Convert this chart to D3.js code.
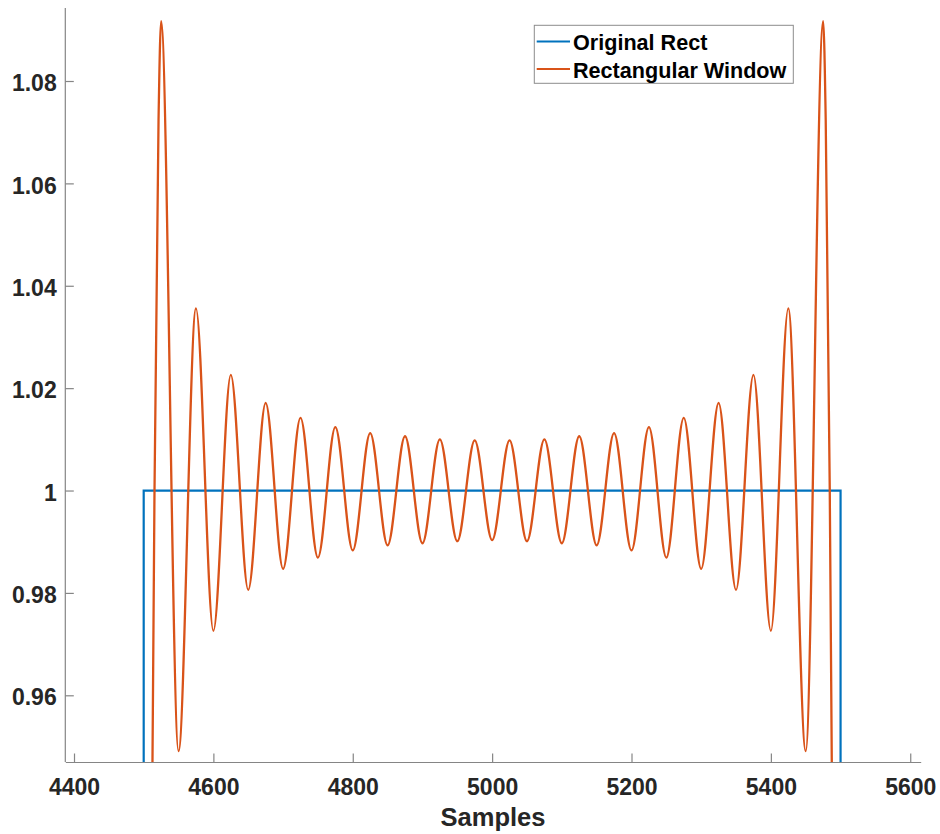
<!DOCTYPE html>
<html>
<head>
<meta charset="utf-8">
<script src="https://cdn.jsdelivr.net/npm/d3@7"></script>
<style>
  html, body { margin: 0; padding: 0; background: #ffffff; }
  svg { display: block; }
</style>
</head>
<body>
<svg id="chart" width="940" height="834"></svg>
<script>
// ---------------- data ----------------
const rectX = [4500, 4500, 5500, 5500];
const rectY = [0, 1, 1, 0];

const rippleX = [
  4500, 4512.6, 4515.5, 4521.3, 4525,
  4550, 4575, 4600, 4625, 4650, 4675, 4700, 4725, 4750, 4775,
  4800, 4825, 4850, 4875, 4900, 4925, 4950, 4975, 5000,
  5025, 5050, 5075, 5100, 5125, 5150, 5175, 5200, 5225,
  5250, 5275, 5300, 5325, 5350, 5375, 5400, 5425, 5450,
  5475, 5478.7, 5484.5, 5487.4, 5500
];
const rippleY = [
  0.5, 0.947, 1.0, 1.0724, 1.0917,
  0.9491, 1.0356, 0.9726, 1.0226, 0.9806, 1.0171, 0.9847, 1.0142, 0.9869, 1.0124,
  0.9883, 1.0112, 0.9893, 1.0106, 0.9897, 1.0100, 0.9901, 1.0098, 0.9903,
  1.0098, 0.9901, 1.0100, 0.9897, 1.0106, 0.9893, 1.0112, 0.9883, 1.0124,
  0.9869, 1.0142, 0.9847, 1.0171, 0.9806, 1.0226, 0.9726, 1.0356, 0.9491,
  1.0917, 1.0724, 1.0, 0.947, 0.5
];

const xTicks = [4400, 4600, 4800, 5000, 5200, 5400, 5600];
const yTicks = [0.96, 0.98, 1, 1.02, 1.04, 1.06, 1.08];
const yTickLabels = ["0.96", "0.98", "1", "1.02", "1.04", "1.06", "1.08"];
const seriesNames = ["Original Rect", "Rectangular Window"];
const seriesColors = ["#0072BD", "#D95319"];
const xLabel = "Samples";

// ---------------- layout ----------------
const FONT = "'Liberation Sans', Arial, Helvetica, sans-serif";
const plot = { left: 65.3, right: 920.7, top: 8, bottom: 762 };
const svg = d3.select("#chart");

const x = d3.scaleLinear().domain([4387.5, 5615]).range([plot.left, plot.right]);
const y = d3.scaleLinear().domain([0.94697, 1.09426]).range([plot.bottom, plot.top]);

svg.append("defs").append("clipPath").attr("id", "clip")
  .append("rect")
  .attr("x", plot.left).attr("y", plot.top)
  .attr("width", plot.right - plot.left).attr("height", plot.bottom - plot.top);

// ---------------- axes ----------------
const axisColor = "#858585";
const labelColor = "#262626";

const xAxis = d3.axisBottom(x)
  .tickValues(xTicks)
  .tickFormat(d3.format("d"))
  .tickSizeInner(-8.5)
  .tickSizeOuter(0)
  .tickPadding(16.7);

const gx = svg.append("g")
  .attr("transform", `translate(0,${plot.bottom})`)
  .call(xAxis);

const yAxis = d3.axisLeft(y)
  .tickValues(yTicks)
  .tickFormat((d, i) => yTickLabels[i])
  .tickSizeInner(-8.5)
  .tickSizeOuter(0)
  .tickPadding(8.6);

const gy = svg.append("g")
  .attr("transform", `translate(${plot.left},0)`)
  .call(yAxis);

[gx, gy].forEach(g => {
  g.select(".domain").attr("stroke", axisColor).attr("stroke-width", 1.2);
  g.selectAll(".tick line").attr("stroke", axisColor).attr("stroke-width", 1.2);
  g.selectAll(".tick text")
    .attr("fill", labelColor)
    .style("font-family", FONT)
    .style("font-size", "23px")
    .style("font-weight", "bold");
});
gy.selectAll(".tick text").attr("dy", "0.42em");

// y domain line spans the full plot height
gy.select(".domain").attr("d", `M0,${plot.bottom}V${plot.top}`);

svg.append("text")
  .attr("x", (plot.left + plot.right) / 2)
  .attr("y", 826)
  .attr("text-anchor", "middle")
  .attr("fill", labelColor)
  .style("font-family", FONT)
  .style("font-size", "25.5px")
  .style("font-weight", "bold")
  .text(xLabel);

// ---------------- lines ----------------
const lines = svg.append("g").attr("clip-path", "url(#clip)");

const rectLine = d3.line()
  .x(i => x(rectX[i]))
  .y(i => y(rectY[i]));

lines.append("path")
  .attr("d", rectLine(d3.range(rectX.length)))
  .attr("fill", "none")
  .attr("stroke", seriesColors[0])
  .attr("stroke-width", 2.2)
  .attr("stroke-linejoin", "miter");

const rippleLine = d3.line()
  .x(i => x(rippleX[i]))
  .y(i => y(rippleY[i]))
  .curve(d3.curveMonotoneX);

lines.append("path")
  .attr("d", rippleLine(d3.range(rippleX.length)))
  .attr("fill", "none")
  .attr("stroke", seriesColors[1])
  .attr("stroke-width", 2.3);

// ---------------- legend ----------------
const lg = svg.append("g");
lg.append("rect")
  .attr("x", 534.3).attr("y", 25.3)
  .attr("width", 259).attr("height", 58)
  .attr("fill", "#ffffff")
  .attr("stroke", "#8c8c8c")
  .attr("stroke-width", 1);

seriesNames.forEach((name, i) => {
  const cy = 41.5 + i * 27.5;
  lg.append("line")
    .attr("x1", 536.7).attr("x2", 570)
    .attr("y1", cy).attr("y2", cy)
    .attr("stroke", seriesColors[i])
    .attr("stroke-width", 2.2);
  lg.append("text")
    .attr("x", 573)
    .attr("y", cy + 8.6)
    .attr("fill", "#000000")
    .style("font-family", FONT)
    .style("font-size", "21.6px")
    .style("font-weight", "bold")
    .text(name);
});
</script>
</body>
</html>
